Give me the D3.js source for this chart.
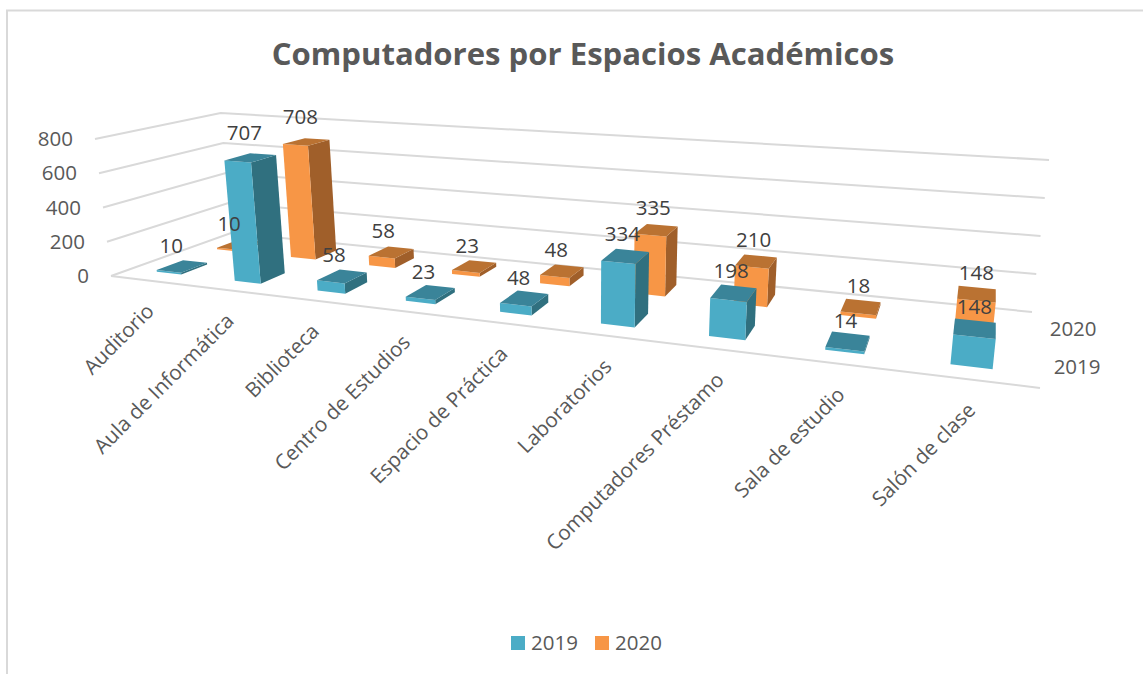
<!DOCTYPE html>
<html><head><meta charset="utf-8">
<script src="https://cdn.jsdelivr.net/npm/d3@7"></script>
<style>html,body{margin:0;padding:0;background:#fff}svg{display:block}text{font-family:"Open Sans",sans-serif}</style>
</head><body><svg id="c" width="1143" height="674"></svg>
<script>
const categories=["Auditorio","Aula de Informática","Biblioteca","Centro de Estudios","Espacio de Práctica","Laboratorios","Computadores Préstamo","Sala de estudio","Salón de clase"];
const values2019=[10,707,58,23,48,334,198,14,148];
const values2020=[10,708,58,23,48,335,210,18,148];
const seriesNames=["2019","2020"];
const ticks=[0,200,400,600,800];
const title="Computadores por Espacios Académicos";
const colors={"2019":{front:"#4BACC6",side:"#30707F",top:"#3A8499"},"2020":{front:"#F79646",side:"#A05F2A",top:"#BA7232"}};
const W=1143,H=674,grid="#D9D9D9";
const floorQuad=[[111,276],[1040,388],[1032,312],[231,233]];
const heights=[137,171,152,120];
const vanish=[583,4315];
function quadMap(q){
  const [[x0,y0],[x1,y1],[x2,y2],[x3,y3]]=q;
  const dx1=x1-x2,dx2=x3-x2,sx=x0-x1+x2-x3,dy1=y1-y2,dy2=y3-y2,sy=y0-y1+y2-y3;
  const den=dx1*dy2-dx2*dy1,g=(sx*dy2-dx2*sy)/den,h=(dx1*sy-sx*dy1)/den;
  const a=x1-x0+g*x1,b=x3-x0+h*x3,d=y1-y0+g*y1,e=y3-y0+h*y3;
  return (u,v)=>{const w=g*u+h*v+1;return [(a*u+b*v+x0)/w,(d*u+e*v+y0)/w];};
}
const fl=quadMap(floorQuad);
const xS=d3.scaleBand().domain(categories).range([0,1]).paddingInner(.68).paddingOuter(.34);
const zS=d3.scaleBand().domain(seriesNames).range([.005,1.005]).paddingInner(.58).paddingOuter(.29);
const yS=d3.scaleLinear().domain([0,800]).range([0,1]);
const yBar=d3.scaleLinear().domain([0,800]).range([0,.975]);
const P=(u,v,val,sc=yS)=>{
  const a=fl(u,v),t=sc(val);
  const hh=(heights[0]*(1-u)+heights[1]*u)*(1-v)+(heights[3]*(1-u)+heights[2]*u)*v;
  const up=hh*t;
  return [a[0]+up*(a[0]-vanish[0])/(vanish[1]-a[1]),a[1]-up];
};
const svg=d3.select("#c");
const line=d3.line();
svg.append("path").attr("d","M7,674V10.5H1143").attr("fill","none").attr("stroke",grid).attr("stroke-width",2);
svg.append("text").attr("x",583).attr("y",65).attr("text-anchor","middle").attr("font-size",31.1).attr("font-weight",700).attr("fill","#595959").text(title);
svg.append("g").selectAll("path").data(ticks).join("path")
 .attr("d",t=>line([P(0,0,t),P(0,1,t),P(1,1,t)])).attr("fill","none").attr("stroke",grid).attr("stroke-width",2);
svg.append("path").attr("d",line([P(0,0,0),P(1,0,0)])).attr("fill","none").attr("stroke",grid).attr("stroke-width",2);
svg.append("g").selectAll("text").data(ticks).join("text")
 .attr("x",t=>P(0,0,t)[0]-22).attr("y",t=>P(0,0,t)[1]+7).attr("text-anchor","end").attr("font-size",20.5).attr("fill","#595959").text(d3.format("d"));
svg.append("g").selectAll("text").data(seriesNames).join("text")
 .attr("x",s=>P(1,zS(s)+zS.bandwidth()/2,0)[0]+16).attr("y",s=>P(1,zS(s)+zS.bandwidth()/2,0)[1]+8).attr("font-size",20.5).attr("fill","#595959").text(s=>s);
svg.append("g").selectAll("text").data(categories).join("text")
 .attr("transform",c=>{const p=P(xS(c)+xS.bandwidth()/2,0,0);return `translate(${p[0]+6},${p[1]+32}) rotate(-45)`;})
 .attr("text-anchor","end").attr("font-size",20.6).attr("fill","#595959").text(c=>c);
const rows=[{s:"2020",vals:values2020},{s:"2019",vals:values2019}];
const area=pts=>d3.polygonArea(pts);
const bars=svg.append("g");
const lab=[];
rows.forEach(r=>{
 categories.forEach((c,i)=>{
  const u0=xS(c),u1=u0+xS.bandwidth(),v0=zS(r.s),v1=v0+zS.bandwidth(),val=r.vals[i],col=colors[r.s];
  const Q=(u,v,w)=>P(u,v,w,yBar);
  const F=[Q(u0,v0,0),Q(u1,v0,0),Q(u1,v0,val),Q(u0,v0,val)];
  const T=[Q(u0,v0,val),Q(u1,v0,val),Q(u1,v1,val),Q(u0,v1,val)];
  const R=[Q(u1,v0,0),Q(u1,v1,0),Q(u1,v1,val),Q(u1,v0,val)];
  const L=[Q(u0,v1,0),Q(u0,v0,0),Q(u0,v0,val),Q(u0,v1,val)];
  const g=bars.append("g");
  if(area(L)>0) g.append("path").attr("d",line(L)+"Z").attr("fill",col.side);
  if(area(R)>0) g.append("path").attr("d",line(R)+"Z").attr("fill",col.side);
  g.append("path").attr("d",line(F)+"Z").attr("fill",col.front);
  g.append("path").attr("d",line(T)+"Z").attr("fill",col.top);
  const um=(u0+u1)/2,a=Q(um,(v0+v1)/2,val);
  lab.push({x:a[0]-11.5+11*um+.005*val,y:a[1]-20.5-.006*val,t:val});
 });
});
svg.append("g").selectAll("text").data(lab).join("text").attr("x",d=>d.x).attr("y",d=>d.y+7).attr("text-anchor","middle").attr("font-size",20.5).attr("fill","#404040").text(d=>d.t);
const lg=svg.append("g");
const lx=d3.scalePoint().domain(seriesNames).range([511,595]);
seriesNames.forEach(s=>{
 lg.append("rect").attr("x",lx(s)).attr("y",636).attr("width",14).attr("height",14).attr("fill",colors[s].front);
 lg.append("text").attr("x",lx(s)+20).attr("y",650).attr("font-size",20.5).attr("fill","#595959").text(s);
});
</script></body></html>
